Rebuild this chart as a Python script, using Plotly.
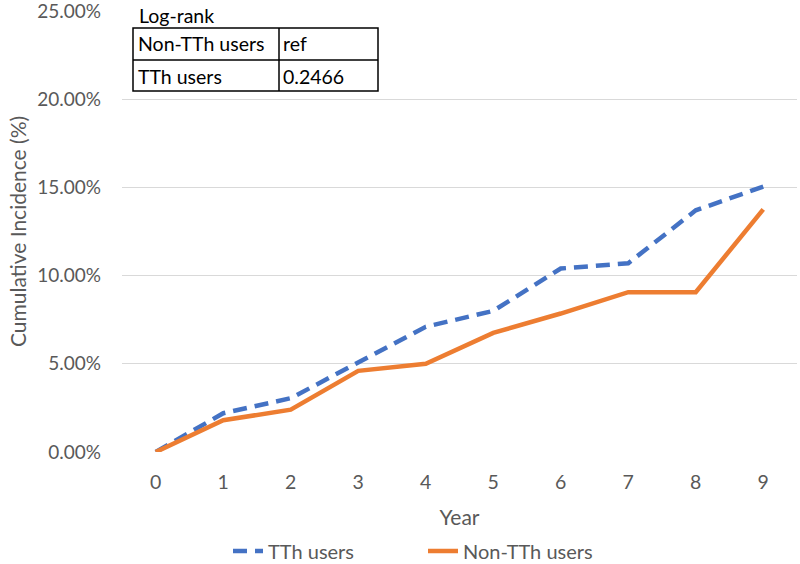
import plotly.graph_objects as go

years = [0, 1, 2, 3, 4, 5, 6, 7, 8, 9]
tth_users = [0.0, 2.2, 3.05, 5.1, 7.1, 8.0, 10.4, 10.7, 13.7, 15.05]
non_tth_users = [0.0, 1.8, 2.4, 4.6, 5.0, 6.75, 7.85, 9.06, 9.06, 13.75]
y_ticks = [0, 5, 10, 15, 20, 25]
y_tick_labels = ["0.00%", "5.00%", "10.00%", "15.00%", "20.00%", "25.00%"]
table_rows = [["Non-TTh users", "ref"], ["TTh users", "0.2466"]]
table_title = "Log-rank"

FONT = "Lato"
GRAY = "#595959"

fig = go.Figure()
fig.add_trace(go.Scatter(x=years, y=tth_users, mode="lines", name="TTh users",
                         line=dict(color="#4472C4", width=4.5, dash="14px,8px")))
fig.add_trace(go.Scatter(x=years, y=non_tth_users, mode="lines", name="Non-TTh users",
                         line=dict(color="#ED7D31", width=4.5)))

W, H = 800, 564
L, R, T, B = 122, 3, 11, 112
pw, ph = W - L - R, H - T - B

def px(x):
    return (x - L) / pw

def py(y):
    return (H - B - y) / ph

shapes = []
shapes.append(dict(type="rect", xref="paper", yref="paper", x0=px(128), x1=px(383),
                   y0=py(96), y1=py(3), fillcolor="white", line=dict(width=0), layer="above"))
shapes.append(dict(type="rect", xref="paper", yref="paper", x0=px(133), x1=px(378),
                   y0=py(91), y1=py(28), line=dict(color="black", width=1.5), layer="above"))
shapes.append(dict(type="line", xref="paper", yref="paper", x0=px(133), x1=px(378),
                   y0=py(60), y1=py(60), line=dict(color="black", width=1.5), layer="above"))
shapes.append(dict(type="line", xref="paper", yref="paper", x0=px(279), x1=px(279),
                   y0=py(91), y1=py(28), line=dict(color="black", width=1.5), layer="above"))

TFS = 19.5
annotations = [dict(text=table_title, xref="paper", yref="paper", x=px(137), y=py(16),
                    xanchor="left", yanchor="middle", showarrow=False,
                    font=dict(family=FONT, size=TFS, color="black"))]
row_y = [44, 76]
for (a, b), yy in zip(table_rows, row_y):
    annotations.append(dict(text=a, xref="paper", yref="paper", x=px(136), y=py(yy),
                            xanchor="left", yanchor="middle", showarrow=False,
                            font=dict(family=FONT, size=TFS, color="black")))
    annotations.append(dict(text=b, xref="paper", yref="paper", x=px(281), y=py(yy),
                            xanchor="left", yanchor="middle", showarrow=False,
                            font=dict(family=FONT, size=TFS, color="black")))

fig.update_layout(
    width=W, height=H,
    margin=dict(l=L, r=R, t=T, b=B, autoexpand=False),
    paper_bgcolor="white", plot_bgcolor="white",
    font=dict(family=FONT, color=GRAY, size=19),
    shapes=shapes, annotations=annotations,
    legend=dict(orientation="h", x=px(228), xanchor="left", y=py(551), yanchor="middle",
                font=dict(family=FONT, size=20, color=GRAY), entrywidth=150,
                entrywidthmode="pixels", traceorder="normal"),
    xaxis=dict(range=[-0.5, 9.5], tickvals=years, showgrid=False, zeroline=False,
               showline=False, ticks="", tickfont=dict(size=19.5, color=GRAY),
               ticklabelstandoff=16, automargin=False,
               title=dict(text="Year", font=dict(size=21, color=GRAY), standoff=18)),
    yaxis=dict(range=[0, 25], tickvals=y_ticks, ticktext=y_tick_labels,
               showgrid=True, gridcolor="#D9D9D9", gridwidth=1.3, zeroline=False,
               showline=False, ticks="", tickfont=dict(size=19, color=GRAY),
               ticklabelstandoff=20, automargin=False, ticklabeloverflow="allow",
               title=dict(text="Cumulative Incidence (%)", font=dict(size=21, color=GRAY), standoff=4)),
)

fig.write_html("out.html", config={"displayModeBar": False},
               post_script="document.body.style.margin='0';document.body.style.padding='0';")
